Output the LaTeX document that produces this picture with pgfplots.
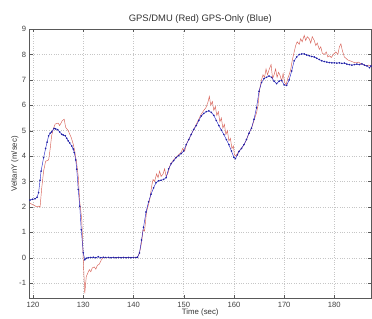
\documentclass[border=0pt]{standalone}
\usepackage{pgfplots}
\pgfplotsset{compat=1.18}
\usepackage{fontspec}
\setmainfont{Liberation Sans}
\definecolor{redl}{RGB}{215,95,85}
\definecolor{bluel}{RGB}{40,40,200}
\begin{document}
\begin{tikzpicture}
\useasboundingbox (-29.5pt,-20.5pt) rectangle (342pt,298pt);
\begin{axis}[
  at={(0pt,0pt)}, anchor=south west,
  scale only axis, width=341pt, height=269pt,
  xmin=119.3, xmax=187.3, ymin=-1.6, ymax=9,
  xtick={120,130,...,180}, ytick={-1,0,...,9},
  grid=major, grid style={dotted, gray!45, line width=0.4pt},
  axis line style={gray!70!black, line width=0.5pt},
  tick style={gray!70!black},
  tick align=inside, major tick length=3pt,
  ticklabel style={font=\fontsize{7.6}{8}\selectfont, text=black!75},
  /pgf/number format/assume math mode=true,
  title={GPS/DMU (Red) GPS-Only (Blue)},
  title style={font=\fontsize{9.4}{10}\selectfont, text=black!80, yshift=-4pt},
  xlabel={Time (sec)},
  xlabel style={font=\fontsize{7.8}{8}\selectfont, text=black!80, yshift=5.5pt},
  ylabel={VeltanY (m/sec)},
  ylabel style={font=\fontsize{7.8}{8}\selectfont, text=black!80, yshift=-6pt},
  clip=true,
]
\addplot[redl, line width=0.45pt] coordinates {
(119.4,2.15)(119.8,2.10)(120.3,2.05)(120.8,2.00)(121.1,2.03)(121.4,2.00)(121.7,2.69)(122.1,3.41)(122.5,3.80)(122.8,3.82)(123.1,3.85)(123.4,4.27)(123.7,4.80)(124.0,5.05)(124.4,5.26)(125.0,5.30)(125.3,5.20)(125.8,5.39)(126.2,5.45)(126.5,5.13)(127.0,5.00)(127.6,4.73)(128.0,4.47)(128.3,4.20)(128.7,3.70)(129.0,3.20)(129.3,2.20)(129.7,1.50)(130.0,-0.08)(130.3,-1.40)(130.6,-0.74)(130.9,-0.60)(131.2,-0.47)(131.5,-0.55)(131.8,-0.40)(132.2,-0.36)(132.5,-0.45)(132.8,-0.30)(133.2,-0.25)(133.6,-0.08)(134.0,0.00)(134.5,0.01)(135,0.01)(136,0.01)(137,0.00)(138,0.01)(139,0.00)(140,0.01)(140.8,0.02)(141.2,0.20)(141.6,0.58)(141.9,1.10)(142.2,1.05)(142.6,1.80)(143.0,2.10)(143.3,2.35)(143.6,2.80)(143.9,3.08)(144.2,3.00)(144.6,3.30)(144.9,3.15)(145.2,3.41)(145.5,3.20)(145.9,3.30)(146.2,3.50)(146.5,3.20)(146.9,3.35)(147.2,3.60)(147.6,3.75)(148.0,3.85)(148.5,3.95)(149.0,4.05)(149.5,4.15)(149.8,4.30)(150.2,4.20)(150.6,4.50)(151.0,4.65)(151.5,4.85)(152.0,5.05)(152.5,5.25)(153.0,5.45)(153.5,5.65)(154.0,5.80)(154.4,5.90)(154.8,6.10)(155.1,6.35)(155.4,6.00)(155.7,6.15)(156.0,5.80)(156.3,5.95)(156.6,5.60)(156.9,5.75)(157.2,5.35)(157.5,5.50)(157.8,5.10)(158.1,5.25)(158.4,4.85)(158.7,5.00)(159.0,4.60)(159.3,4.70)(159.6,4.30)(159.9,4.40)(160.1,4.05)(160.4,4.00)(160.7,4.10)(161.0,4.20)(161.5,4.30)(162.0,4.45)(162.5,4.65)(163.0,4.90)(163.5,5.10)(164.0,5.40)(164.5,5.70)(164.8,6.00)(165.1,6.60)(165.5,7.00)(165.8,7.20)(166.1,7.10)(166.4,7.43)(166.7,7.20)(167.0,7.40)(167.4,7.60)(167.7,7.05)(168.0,7.20)(168.3,7.43)(168.6,7.10)(168.9,7.30)(169.2,7.17)(169.5,6.95)(169.8,7.25)(170.1,6.90)(170.4,6.80)(170.7,7.05)(171.0,7.20)(171.3,7.40)(171.6,7.75)(172.0,8.10)(172.3,8.35)(172.6,8.50)(173.0,8.40)(173.3,8.62)(173.6,8.50)(174.0,8.75)(174.3,8.55)(174.6,8.70)(175.0,8.62)(175.3,8.45)(175.6,8.70)(176.0,8.55)(176.3,8.35)(176.6,8.45)(177.0,8.20)(177.3,8.30)(177.6,8.05)(178.0,8.00)(178.4,8.10)(178.7,7.90)(179.0,7.95)(179.4,7.88)(179.8,8.00)(180.3,8.10)(180.7,8.00)(181.0,8.30)(181.3,8.42)(181.6,8.15)(182.0,7.90)(182.3,7.85)(182.7,7.78)(183.0,7.76)(183.5,7.72)(184.0,7.68)(184.3,7.67)(184.8,7.70)(185.3,7.63)(185.8,7.60)(186.3,7.55)(186.8,7.58)(187.3,7.55)
};
\addplot[bluel, line width=0.45pt, mark=*, mark size=0.55pt, mark options={fill=bluel!80!black, draw=bluel!80!black}] coordinates {
(119.4,2.27)(119.9,2.30)(120.4,2.32)(120.8,2.38)(121.1,2.56)(121.4,3.05)(121.6,3.41)(122.1,3.94)(122.5,4.30)(122.8,4.55)(123.1,4.80)(123.4,4.90)(123.7,4.95)(124.2,5.09)(124.5,5.07)(124.9,5.04)(125.3,4.95)(125.7,4.86)(126.0,4.83)(126.4,4.80)(126.7,4.70)(127.0,4.60)(127.3,4.52)(127.7,4.40)(128.0,4.28)(128.2,4.14)(128.5,3.85)(128.7,3.48)(129.0,2.69)(129.3,2.03)(129.6,1.10)(130.0,0.20)(130.3,-0.08)(130.6,-0.02)(131.0,0.00)(131.5,0.01)(132.0,0.02)(132.5,0.00)(133.0,0.04)(133.5,0.00)(134.0,0.02)(134.5,0.01)(135.0,0.01)(135.5,0.00)(136.0,0.01)(136.5,0.00)(137.0,0.01)(137.5,0.00)(138.0,0.01)(138.5,0.00)(139.0,0.01)(139.5,0.00)(140.0,0.01)(140.5,0.01)(140.8,0.02)(141.2,0.19)(141.6,0.70)(142.0,1.20)(142.5,1.80)(143.0,2.20)(143.5,2.50)(144.0,2.75)(144.5,2.95)(145.0,3.03)(145.5,3.05)(146.0,3.08)(146.5,3.15)(147.0,3.50)(147.5,3.70)(148.0,3.82)(148.5,3.94)(149.0,4.02)(149.5,4.10)(150.0,4.20)(150.5,4.45)(151.0,4.65)(151.5,4.85)(152.0,5.05)(152.5,5.20)(153.0,5.40)(153.5,5.58)(154.0,5.68)(154.5,5.75)(155.0,5.78)(155.5,5.72)(156.0,5.60)(156.5,5.40)(157.0,5.20)(157.5,5.02)(158.0,4.85)(158.5,4.65)(159.0,4.45)(159.5,4.20)(160.0,3.95)(160.3,3.90)(160.7,4.05)(161.0,4.18)(161.5,4.30)(162.0,4.45)(162.5,4.65)(163.0,4.90)(163.5,5.10)(164.0,5.45)(164.5,5.90)(165.0,6.55)(165.5,6.90)(166.0,7.05)(166.5,7.10)(167.0,7.15)(167.5,7.10)(168.0,6.95)(168.5,6.85)(169.0,6.95)(169.5,6.98)(170.0,6.80)(170.5,6.78)(171.0,7.00)(171.5,7.35)(172.0,7.75)(172.5,7.90)(173.0,8.00)(173.5,8.02)(174.0,8.02)(174.5,7.98)(175.0,7.95)(175.5,7.92)(176.0,7.90)(176.5,7.85)(177.0,7.80)(177.5,7.75)(178.0,7.72)(178.5,7.70)(179.0,7.68)(179.5,7.67)(180.0,7.67)(180.5,7.66)(181.0,7.67)(181.5,7.65)(182.0,7.66)(182.5,7.62)(183.0,7.60)(183.5,7.58)(184.0,7.60)(184.5,7.62)(185.0,7.60)(185.5,7.63)(186.0,7.58)(186.5,7.55)(187.0,7.48)(187.3,7.55)
};
\end{axis}
\end{tikzpicture}
\end{document}
